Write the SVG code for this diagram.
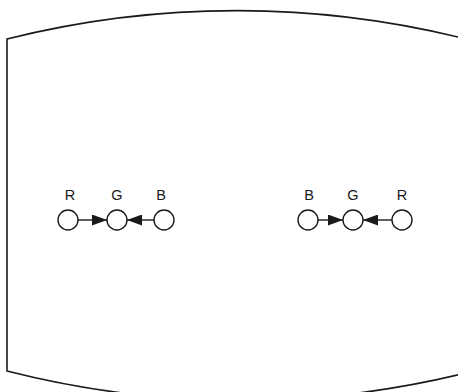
<svg xmlns="http://www.w3.org/2000/svg" width="458" height="392" viewBox="0 0 458 392">
<defs>
<marker id="ah" markerWidth="15" markerHeight="11" refX="15" refY="5.5" orient="auto" markerUnits="userSpaceOnUse">
<path d="M0,0 L15,5.5 L0,11 Z" fill="#1a1a1a"/>
</marker>
<style>
.frame{fill:none;stroke:#1a1a1a;stroke-width:1.6}
.node{fill:#fff;stroke:#1a1a1a;stroke-width:1.4}
.lbl{font-family:"Liberation Sans",Arial,sans-serif;font-size:14.5px;fill:#1a1a1a;text-anchor:middle}
.edge{stroke:#1a1a1a;stroke-width:1.4;fill:none;marker-end:url(#ah)}
</style>
</defs>
<rect width="458" height="392" fill="#fff"/>
<g id="frame">
<path class="frame" d="M470,40 A942,942 0 0 0 7,39 L7,371 A942,942 0 0 0 470,372"/>
</g>
<g id="left-R"><circle class="node" cx="68" cy="220" r="10"/><text class="lbl" x="70" y="200">R</text></g>
<g id="left-G"><circle class="node" cx="117" cy="220" r="10"/><text class="lbl" x="117" y="200">G</text></g>
<g id="left-B"><circle class="node" cx="164" cy="220" r="10"/><text class="lbl" x="161" y="200">B</text></g>
<g id="right-B"><circle class="node" cx="308" cy="220" r="10"/><text class="lbl" x="309" y="200">B</text></g>
<g id="right-G"><circle class="node" cx="353" cy="220" r="10"/><text class="lbl" x="353" y="200">G</text></g>
<g id="right-R"><circle class="node" cx="402" cy="220" r="10"/><text class="lbl" x="402" y="200">R</text></g>
<g id="connectors">
<line class="edge" x1="78" y1="220" x2="107" y2="220"/>
<line class="edge" x1="154" y1="220" x2="127" y2="220"/>
<line class="edge" x1="318" y1="220" x2="343" y2="220"/>
<line class="edge" x1="392" y1="220" x2="363" y2="220"/>
</g>
</svg>
